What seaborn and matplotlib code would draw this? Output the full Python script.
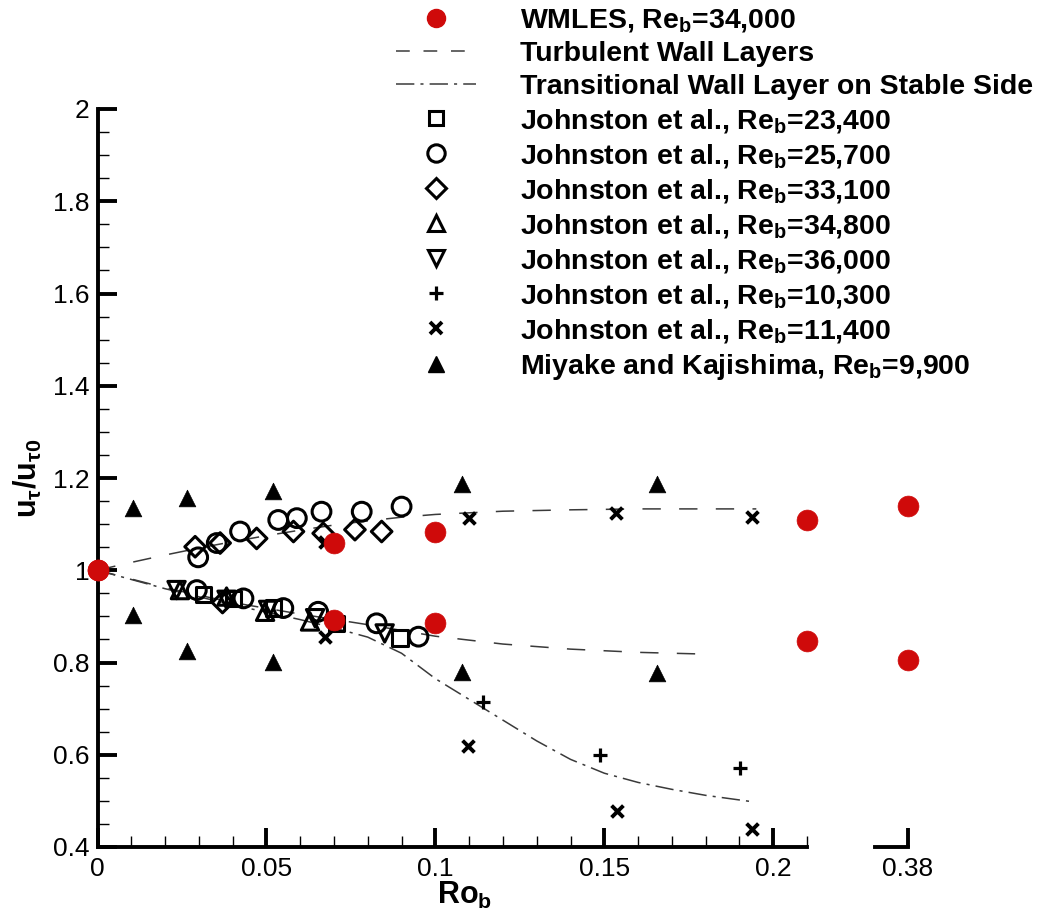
import numpy as np
import pandas as pd
import matplotlib
matplotlib.use("Agg")
import matplotlib.pyplot as plt
import seaborn as sns
from matplotlib.lines import Line2D
from matplotlib.ticker import MultipleLocator, FuncFormatter, FixedLocator, NullLocator

# ---------------- data ----------------
wmles_ro = [0.0, 0.07, 0.10, 0.21, 0.38]
wmles_unstable = [1.0, 1.060, 1.083, 1.109, 1.140]
wmles_stable = [1.0, 0.893, 0.885, 0.847, 0.806]

turb_unstable_ro = [0.0, 0.01, 0.02, 0.03, 0.04, 0.05, 0.06, 0.07, 0.08, 0.09, 0.10, 0.12, 0.14, 0.16, 0.18, 0.195]
turb_unstable_y = [1.0, 1.017, 1.033, 1.048, 1.062, 1.075, 1.087, 1.098, 1.107, 1.115, 1.121, 1.128, 1.131, 1.133, 1.133, 1.133]
turb_stable_ro = [0.0, 0.02, 0.04, 0.06, 0.08, 0.10, 0.12, 0.14, 0.16, 0.181]
turb_stable_y = [1.0, 0.962, 0.930, 0.905, 0.882, 0.857, 0.840, 0.829, 0.822, 0.818]

trans_ro = [0.0, 0.02, 0.04, 0.06, 0.07, 0.08, 0.09, 0.10, 0.11, 0.12, 0.13, 0.14, 0.15, 0.16, 0.17, 0.18, 0.194]
trans_y = [1.0, 0.960, 0.925, 0.893, 0.875, 0.855, 0.820, 0.765, 0.720, 0.675, 0.630, 0.590, 0.560, 0.540, 0.525, 0.512, 0.498]

j23400_ro = [0.0313, 0.0402, 0.052, 0.0708, 0.0895]
j23400_y = [0.947, 0.939, 0.918, 0.885, 0.853]

j25700_ro = [0.0298, 0.0353, 0.0422, 0.0535, 0.059, 0.0663, 0.0782, 0.090,
             0.0294, 0.0432, 0.055, 0.0653, 0.0826, 0.095]
j25700_y = [1.028, 1.059, 1.084, 1.109, 1.113, 1.127, 1.127, 1.138,
            0.957, 0.939, 0.918, 0.910, 0.885, 0.856]

j33100_ro = [0.0289, 0.0363, 0.0471, 0.058, 0.0668, 0.0762, 0.0841, 0.037]
j33100_y = [1.051, 1.059, 1.069, 1.084, 1.080, 1.088, 1.084, 0.930]

j34800_ro = [0.0244, 0.0382, 0.0496, 0.0629]
j34800_y = [0.957, 0.943, 0.910, 0.889]

j36000_ro = [0.0234, 0.0382, 0.0505, 0.0644, 0.085]
j36000_y = [0.957, 0.936, 0.914, 0.896, 0.863]

j10300_ro = [0.114, 0.1487, 0.1903]
j10300_y = [0.715, 0.600, 0.571]

j11400_ro = [0.0673, 0.110, 0.1536, 0.1936, 0.0673, 0.1097, 0.1537, 0.1936]
j11400_y = [1.062, 1.113, 1.124, 1.115, 0.856, 0.619, 0.479, 0.438]

miyake_ro = [0.0106, 0.0266, 0.0518, 0.108, 0.1655, 0.0106, 0.0266, 0.0518, 0.108, 0.1655]
miyake_y = [1.135, 1.156, 1.172, 1.187, 1.187, 0.903, 0.824, 0.802, 0.780, 0.777]

x_major_ticks = [0.0, 0.05, 0.10, 0.15, 0.20]
x_break_tick = [0.38]
y_major_ticks = [0.4, 0.6, 0.8, 1.0, 1.2, 1.4, 1.6, 1.8, 2.0]

legend_labels = [
    r"WMLES, Re$_\mathbf{b}$=34,000",
    "Turbulent Wall Layers",
    "Transitional Wall Layer on Stable Side",
    r"Johnston et al., Re$_\mathbf{b}$=23,400",
    r"Johnston et al., Re$_\mathbf{b}$=25,700",
    r"Johnston et al., Re$_\mathbf{b}$=33,100",
    r"Johnston et al., Re$_\mathbf{b}$=34,800",
    r"Johnston et al., Re$_\mathbf{b}$=36,000",
    r"Johnston et al., Re$_\mathbf{b}$=10,300",
    r"Johnston et al., Re$_\mathbf{b}$=11,400",
    r"Miyake and Kajishima, Re$_\mathbf{b}$=9,900",
]

# ---------------- style ----------------
sns.set_style("white")
plt.rcParams["font.family"] = ["Liberation Sans", "DejaVu Sans"]
plt.rcParams["mathtext.fontset"] = "custom"
plt.rcParams["mathtext.rm"] = "Liberation Sans"
plt.rcParams["mathtext.bf"] = "Liberation Sans:bold"
plt.rcParams["mathtext.it"] = "Liberation Sans:italic"
plt.rcParams["mathtext.sf"] = "Liberation Sans"
plt.rcParams["mathtext.fallback"] = "stix"
for k in ("text.color", "axes.labelcolor", "xtick.color", "ytick.color"):
    plt.rcParams[k] = "black"

RED = "#cf0a0a"
LINE = "#3a3a3a"
DASHED = (0, (12, 12))
DASHDOT = (0, (12, 4, 2, 4))

fig = plt.figure(figsize=(10.42, 9.24), dpi=100)
bottom = (924 - 847) / 924
height = (847 - 109) / 924
ax = fig.add_axes([97.5 / 1042, bottom, (807 - 97.5) / 1042, height])
ax2 = fig.add_axes([875 / 1042, bottom, (908 - 875) / 1042, height])
ax2.patch.set_alpha(0)

ZO = 5

# ---------------- lines ----------------
sns.lineplot(x=turb_unstable_ro, y=turb_unstable_y, ax=ax, color=LINE, lw=1.1,
             linestyle=DASHED, sort=False, estimator=None)
sns.lineplot(x=turb_stable_ro, y=turb_stable_y, ax=ax, color=LINE, lw=1.1,
             linestyle=DASHED, sort=False, estimator=None)
sns.lineplot(x=trans_ro, y=trans_y, ax=ax, color=LINE, lw=1.1,
             linestyle=DASHDOT, sort=False, estimator=None)
for ln in ax.get_lines():
    ln.set_clip_on(False)

# ---------------- scatter ----------------
MEW = 2.2
SIZES = {"s": 11, "o": 13.5, "D": 10.5, "^": 12.5, "v": 12.5}


def open_sc(xs, ys, marker, a=ax):
    sns.scatterplot(x=xs, y=ys, ax=a, marker=marker, s=SIZES[marker] ** 2, facecolor="none",
                    edgecolor="black", linewidth=MEW, clip_on=False, zorder=ZO)


open_sc(j23400_ro, j23400_y, "s")
open_sc(j25700_ro, j25700_y, "o")
open_sc(j33100_ro, j33100_y, "D")
open_sc(j34800_ro, j34800_y, "^")
open_sc(j36000_ro, j36000_y, "v")

sns.scatterplot(x=j10300_ro, y=j10300_y, ax=ax, marker="+", s=10 ** 2, color="black",
                linewidth=2.3, clip_on=False, zorder=ZO)
sns.scatterplot(x=j11400_ro, y=j11400_y, ax=ax, marker="x", s=8.5 ** 2, color="black",
                linewidth=2.8, clip_on=False, zorder=ZO)
sns.scatterplot(x=miyake_ro, y=miyake_y, ax=ax, marker="^", s=12 ** 2, color="black",
                edgecolor="black", linewidth=0.5, clip_on=False, zorder=ZO)

wm = pd.DataFrame({"ro": wmles_ro * 2, "y": wmles_unstable + wmles_stable})
main = wm[wm["ro"] <= 0.21]
brk = wm[wm["ro"] > 0.3]
sns.scatterplot(data=main, x="ro", y="y", ax=ax, marker="o", s=15 ** 2, color=RED,
                edgecolor=RED, linewidth=0.5, clip_on=False, zorder=ZO + 1)
sns.scatterplot(data=brk, x="ro", y="y", ax=ax2, marker="o", s=15 ** 2, color=RED,
                edgecolor=RED, linewidth=0.5, clip_on=False, zorder=ZO + 1)

# ---------------- axes ----------------
for a in (ax, ax2):
    a.set_ylim(0.4, 2.0)
    a.set_xlabel("")
    a.set_ylabel("")
    for s in ("top", "right"):
        a.spines[s].set_visible(False)
    for s in ("bottom", "left"):
        a.spines[s].set_linewidth(2.8)
        a.spines[s].set_color("black")

ax.set_xlim(0.0, 0.21)
ax2.set_xlim(0.38 - (908 - 875) / 3379, 0.38)

ax.xaxis.set_major_locator(FixedLocator(x_major_ticks))
ax.xaxis.set_minor_locator(MultipleLocator(0.01))
ax.yaxis.set_major_locator(FixedLocator(y_major_ticks))
ax.yaxis.set_minor_locator(MultipleLocator(0.05))
fmt = FuncFormatter(lambda v, p: f"{v:g}")
ax.xaxis.set_major_formatter(fmt)
ax.yaxis.set_major_formatter(fmt)

ax.tick_params(which="both", bottom=True, left=True, top=False, right=False)
ax.tick_params(which="major", direction="in", length=14, width=2.8, labelsize=19,
               pad=6, colors="black")
ax.tick_params(which="minor", direction="in", length=8, width=1.0, colors="black")
ax.tick_params(axis="x", which="major", pad=7)

ax2.spines["left"].set_visible(False)
ax2.yaxis.set_major_locator(NullLocator())
ax2.yaxis.set_minor_locator(NullLocator())
ax2.xaxis.set_major_locator(FixedLocator(x_break_tick))
ax2.xaxis.set_minor_locator(NullLocator())
ax2.xaxis.set_major_formatter(FuncFormatter(lambda v, p: f"{v:g}"))
ax2.tick_params(which="both", bottom=True, left=False, top=False, right=False)
ax2.tick_params(which="major", direction="in", length=14, width=2.8, labelsize=19,
                pad=7, colors="black")

ax.set_xlabel(r"$\mathbf{Ro_b}$", fontsize=22)
ax.xaxis.set_label_coords((465 - 97.5) / 709.5, -0.044)
ax.set_ylabel(r"$\mathbf{u_\tau/u_{\tau0}}$", fontsize=22)
ax.yaxis.set_label_coords((44 - 97.5) / 709.5, (847 - 478) / 738)

# ---------------- legend ----------------
handles = [
    Line2D([], [], ls="none", marker="o", ms=13, color=RED, mec=RED),
    Line2D([], [], ls=(0, (9, 9)), color=LINE, lw=1.1),
    Line2D([], [], ls=DASHDOT, color=LINE, lw=1.1),
    Line2D([], [], ls="none", marker="s", ms=10, mfc="none", mec="black", mew=MEW),
    Line2D([], [], ls="none", marker="o", ms=12.5, mfc="none", mec="black", mew=MEW),
    Line2D([], [], ls="none", marker="D", ms=10, mfc="none", mec="black", mew=MEW),
    Line2D([], [], ls="none", marker="^", ms=11.5, mfc="none", mec="black", mew=MEW),
    Line2D([], [], ls="none", marker="v", ms=11.5, mfc="none", mec="black", mew=MEW),
    Line2D([], [], ls="none", marker="+", ms=10, color="black", mew=2.3),
    Line2D([], [], ls="none", marker="x", ms=8.5, color="black", mew=2.8),
    Line2D([], [], ls="none", marker="^", ms=12, color="black"),
]
leg = fig.legend(handles, legend_labels, loc="upper left",
                 bbox_to_anchor=(396 / 1042, 1 - 7 / 924),
                 frameon=False, prop={"size": 20.5, "weight": "bold"},
                 handlelength=2.8, handletextpad=1.55, labelspacing=0.245,
                 borderpad=0, borderaxespad=0)

fig.savefig("out.png", dpi=100)
